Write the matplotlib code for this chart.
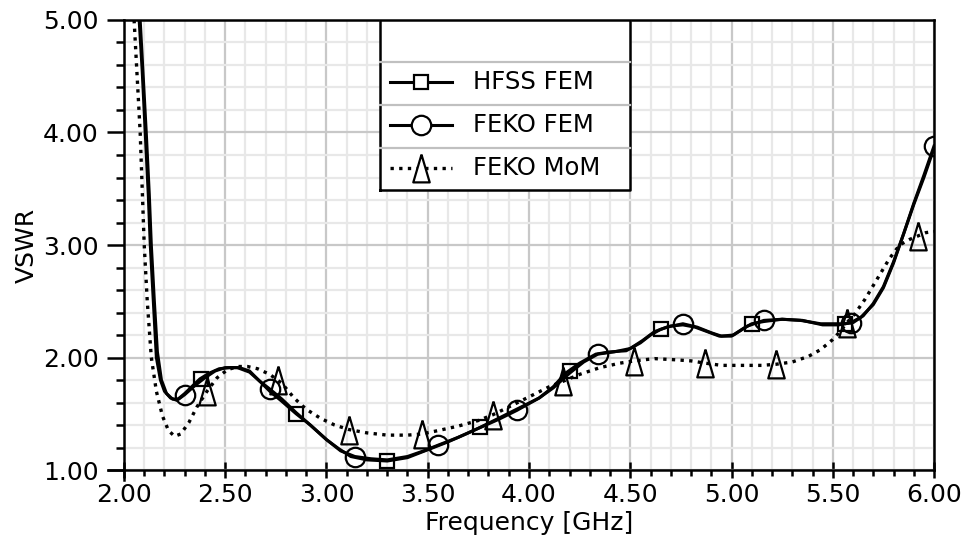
import matplotlib
matplotlib.use("Agg")
import matplotlib.pyplot as plt
from matplotlib.ticker import MultipleLocator, FormatStrFormatter

plt.rcParams['font.family'] = ['DejaVu Sans']

# HFSS FEM curve (solid)
hfss_f = [2.075, 2.09, 2.105, 2.12, 2.13, 2.145, 2.16, 2.18, 2.20, 2.23, 2.26, 2.30, 2.34, 2.375,
          2.42, 2.47, 2.52, 2.57, 2.62, 2.67, 2.72, 2.78, 2.85, 2.92, 3.00, 3.06, 3.12, 3.20,
          3.30, 3.40, 3.50, 3.60, 3.70, 3.76, 3.85, 3.95, 4.05, 4.12, 4.18, 4.25, 4.33, 4.40,
          4.48, 4.55, 4.60, 4.65, 4.70, 4.76, 4.82, 4.88, 4.94, 5.00, 5.06, 5.10, 5.16, 5.25,
          5.34, 5.44, 5.52, 5.56, 5.60, 5.65, 5.70, 5.75, 5.80, 5.85, 5.90, 5.95, 6.00]
hfss_v = [5.00, 4.55, 4.00, 3.45, 3.00, 2.50, 2.00, 1.80, 1.70, 1.64, 1.62, 1.68, 1.75, 1.81,
          1.86, 1.90, 1.91, 1.91, 1.88, 1.79, 1.70, 1.61, 1.50, 1.40, 1.27, 1.19, 1.12, 1.09,
          1.08, 1.11, 1.18, 1.25, 1.33, 1.38, 1.46, 1.55, 1.64, 1.74, 1.86, 1.95, 2.03, 2.05,
          2.06, 2.13, 2.20, 2.25, 2.28, 2.29, 2.27, 2.23, 2.19, 2.19, 2.26, 2.30, 2.32, 2.34,
          2.33, 2.30, 2.30, 2.30, 2.31, 2.37, 2.48, 2.63, 2.85, 3.10, 3.36, 3.60, 3.86]
hfss_mk_f = [2.38, 2.85, 3.30, 3.76, 4.20, 4.65, 5.10, 5.56]
hfss_mk_v = [1.81, 1.50, 1.08, 1.38, 1.88, 2.25, 2.30, 2.30]

# FEKO FEM curve (solid)
fem_f = [2.08, 2.095, 2.11, 2.125, 2.135, 2.15, 2.165, 2.185, 2.21, 2.24, 2.27, 2.30, 2.35, 2.40,
         2.45, 2.50, 2.56, 2.62, 2.67, 2.72, 2.78, 2.85, 2.92, 3.00, 3.07, 3.14, 3.22, 3.30,
         3.40, 3.48, 3.55, 3.65, 3.75, 3.85, 3.94, 4.05, 4.12, 4.20, 4.27, 4.34, 4.42, 4.50,
         4.56, 4.62, 4.68, 4.76, 4.83, 4.90, 4.95, 5.01, 5.08, 5.16, 5.25, 5.35, 5.45, 5.53,
         5.59, 5.64, 5.70, 5.75, 5.80, 5.85, 5.90, 5.95, 6.00]
fem_v = [5.00, 4.50, 4.00, 3.45, 3.00, 2.50, 2.05, 1.80, 1.68, 1.63, 1.63, 1.67, 1.75, 1.82,
         1.88, 1.91, 1.91, 1.87, 1.79, 1.72, 1.63, 1.51, 1.40, 1.27, 1.17, 1.12, 1.10, 1.09,
         1.12, 1.17, 1.22, 1.29, 1.37, 1.45, 1.53, 1.64, 1.73, 1.86, 1.96, 2.03, 2.05, 2.08,
         2.15, 2.23, 2.27, 2.30, 2.27, 2.22, 2.19, 2.20, 2.28, 2.33, 2.34, 2.33, 2.29, 2.29,
         2.31, 2.36, 2.47, 2.62, 2.84, 3.10, 3.37, 3.62, 3.88]
fem_mk_f = [2.30, 2.72, 3.14, 3.55, 3.94, 4.34, 4.76, 5.16, 5.59, 6.00]
fem_mk_v = [1.67, 1.72, 1.12, 1.22, 1.53, 2.03, 2.30, 2.33, 2.31, 3.88]

# FEKO MoM curve (dotted)
mom_f = [2.05, 2.065, 2.08, 2.09, 2.10, 2.115, 2.135, 2.16, 2.19, 2.22, 2.25, 2.28, 2.32, 2.36,
         2.41, 2.46, 2.51, 2.56, 2.61, 2.66, 2.72, 2.78, 2.84, 2.90, 2.97, 3.04, 3.11, 3.20,
         3.30, 3.40, 3.47, 3.55, 3.65, 3.75, 3.82, 3.90, 4.00, 4.10, 4.17, 4.25, 4.35, 4.45,
         4.52, 4.62, 4.72, 4.80, 4.87, 4.95, 5.05, 5.15, 5.22, 5.30, 5.38, 5.44, 5.50, 5.54,
         5.57, 5.61, 5.66, 5.72, 5.78, 5.83, 5.88, 5.92, 5.96, 6.00]
mom_v = [5.00, 4.50, 4.00, 3.50, 3.00, 2.50, 2.00, 1.70, 1.48, 1.35, 1.30, 1.32, 1.42, 1.56,
         1.70, 1.82, 1.89, 1.92, 1.92, 1.90, 1.85, 1.77, 1.64, 1.54, 1.46, 1.40, 1.36, 1.33,
         1.31, 1.31, 1.32, 1.35, 1.39, 1.44, 1.49, 1.56, 1.65, 1.74, 1.79, 1.85, 1.91, 1.95,
         1.97, 1.99, 1.98, 1.97, 1.95, 1.93, 1.93, 1.93, 1.94, 1.96, 2.01, 2.07, 2.16, 2.24,
         2.31, 2.39, 2.52, 2.70, 2.88, 3.00, 3.05, 3.08, 3.11, 3.12]
mom_mk_f = [2.41, 2.76, 3.11, 3.47, 3.82, 4.17, 4.52, 4.87, 5.22, 5.57, 5.92]
mom_mk_v = [1.70, 1.80, 1.36, 1.32, 1.49, 1.79, 1.97, 1.95, 1.94, 2.31, 3.08]

labels = ['HFSS FEM', 'FEKO FEM', 'FEKO MoM']

tri = [(0, 1.1), (-0.65, -1.1), (0.65, -1.1), (0, 1.1)]
dotted = (0, (1, 1.6))

fig = plt.figure(figsize=(9.67, 5.39), dpi=100)
ax = fig.add_axes([0.1282, 0.128, 0.8377, 0.8349])

line_kw = dict(color='black', lw=2.2, zorder=3)
mk_kw = dict(color='black', ls='none', mfc='none', mew=1.6, zorder=4)

ax.plot(hfss_f, hfss_v, **line_kw)
ax.plot(hfss_mk_f, hfss_mk_v, marker='s', ms=10, **mk_kw)
ax.plot(fem_f, fem_v, **line_kw)
ax.plot(fem_mk_f, fem_mk_v, marker='o', ms=14, **mk_kw)
ax.plot(mom_f, mom_v, color='black', lw=2.4, ls=dotted, zorder=3)
ax.plot(mom_mk_f, mom_mk_v, marker=tri, ms=20, **mk_kw)

ax.set_xlim(2.0, 6.0)
ax.set_ylim(1.0, 5.0)
ax.xaxis.set_major_locator(MultipleLocator(0.5))
ax.xaxis.set_minor_locator(MultipleLocator(0.1))
ax.yaxis.set_major_locator(MultipleLocator(1.0))
ax.yaxis.set_minor_locator(MultipleLocator(0.2))
ax.xaxis.set_major_formatter(FormatStrFormatter('%.2f'))
ax.yaxis.set_major_formatter(FormatStrFormatter('%.2f'))

ax.grid(which='major', color='#c8c8c8', lw=1.6, zorder=0)
ax.grid(which='minor', color='#e8e8e8', lw=1.6, zorder=0)
ax.set_axisbelow(True)

for s in ax.spines.values():
    s.set_linewidth(1.8)
    s.set_zorder(5)

ax.tick_params(axis='y', which='major', direction='out', length=12, width=1.8, pad=6, labelsize=18)
ax.tick_params(axis='y', which='minor', direction='out', length=6, width=1.8)
ax.tick_params(axis='x', which='major', direction='inout', length=12, width=1.8, pad=3, labelsize=18)
ax.tick_params(axis='x', which='minor', direction='out', length=4, width=1.8)

# axis lines run a little past the corner
ax.plot([-0.02, 0], [0, 0], color='black', lw=1.8, transform=ax.transAxes, clip_on=False)
ax.plot([0, 0], [-0.022, 0], color='black', lw=1.8, transform=ax.transAxes, clip_on=False)

ax.set_xlabel('Frequency [GHz]', fontsize=18)
ax.set_ylabel('VSWR', fontsize=18)
ax.xaxis.set_label_coords(0.5, -0.09)
ax.yaxis.set_label_coords(-0.105, 0.5)

# legend box drawn by hand: blank top row and grey row separators
tr = ax.transAxes
x0, x1, y0, y1 = 0.316, 0.625, 0.622, 1.0
ax.fill([x0, x1, x1, x0], [y0, y0, y1, y1], color='white', transform=tr, zorder=6)
ax.plot([x0, x1, x1, x0, x0], [y0, y0, y1, y1, y0], color='black', lw=1.8, transform=tr, zorder=7)
for ys in [0.907, 0.811, 0.716]:
    ax.plot([x0, x1], [ys, ys], color='#c0c0c0', lw=1.6, transform=tr, zorder=7)

rows = [0.862, 0.767, 0.671]
styles = [('-', 's', 10), ('-', 'o', 14), (dotted, tri, 20)]
for yr, lab, (ls, mk, ms) in zip(rows, labels, styles):
    lw = 2.4 if ls == dotted else 2.2
    ax.plot([0.328, 0.405], [yr, yr], color='black', lw=lw, ls=ls, transform=tr, zorder=8)
    ax.plot([0.367], [yr], marker=mk, ms=ms, color='black', mfc='white', mew=1.6,
            transform=tr, zorder=9)
    ax.text(0.431, yr, lab, fontsize=17.5, va='center', ha='left', transform=tr, zorder=9)

fig.savefig('out.png', dpi=100)
